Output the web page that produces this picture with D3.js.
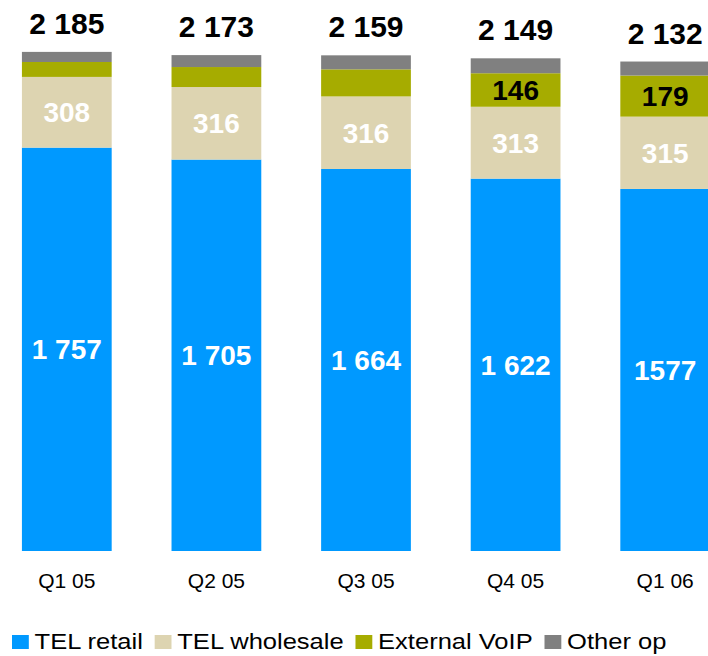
<!DOCTYPE html>
<html>
<head>
<meta charset="utf-8">
<script src="https://cdn.jsdelivr.net/npm/d3@7"></script>
<style>
  body { margin: 0; background: #fff; }
  svg { display: block; font-family: "Liberation Sans", Arial, sans-serif; }
</style>
</head>
<body>
<svg id="chart" width="708" height="656"></svg>
<script>
var categories = ["Q1 05", "Q2 05", "Q3 05", "Q4 05", "Q1 06"];
var telRetail = [1757, 1705, 1664, 1622, 1577];
var telWholesale = [308, 316, 316, 313, 315];
var externalVoip = [65, 87, 118, 146, 179];
var otherOp = [44, 52, 61, 65, 61];
var totals = ["2 185", "2 173", "2 159", "2 149", "2 132"];
var retailLabels = ["1 757", "1 705", "1 664", "1 622", "1577"];
var voipLabels = [null, null, null, "146", "179"];

var seriesNames = ["TEL retail", "TEL wholesale", "External VoIP", "Other op"];
var seriesColors = ["#0099ff", "#ddd4b1", "#a6ac00", "#808080"];

var svg = d3.select("#chart");

var rows = categories.map(function(c, i) {
    return { cat: c, retail: telRetail[i], wholesale: telWholesale[i], voip: externalVoip[i], other: otherOp[i], i: i };
});

var keys = ["retail", "wholesale", "voip", "other"];
var stack = d3.stack().keys(keys)(rows);

var x = d3.scaleBand()
    .domain(categories)
    .range([-8, 740])
    .paddingInner(0.4)
    .paddingOuter(0.2);

var y = d3.scaleLinear()
    .domain([0, 2400])
    .range([551, 0]);

// bars
var layers = svg.append("g")
    .selectAll("g")
    .data(stack)
    .enter().append("g")
    .attr("fill", function(d, i) { return seriesColors[i]; });

layers.selectAll("rect")
    .data(function(d) { return d; })
    .enter().append("rect")
    .attr("x", function(d) { return x(d.data.cat); })
    .attr("y", function(d) { return y(d[1]); })
    .attr("width", x.bandwidth())
    .attr("height", function(d) { return y(d[0]) - y(d[1]); });

// labels inside the segments
function segLabel(layerIdx, texts, color) {
    svg.append("g")
        .selectAll("text")
        .data(stack[layerIdx].filter(function(d) { return texts[d.data.i] != null; }))
        .enter().append("text")
        .attr("x", function(d) { return x(d.data.cat) + x.bandwidth() / 2; })
        .attr("y", function(d) { return (y(d[0]) + y(d[1])) / 2 + 10; })
        .attr("text-anchor", "middle")
        .attr("font-size", 28)
        .attr("font-weight", "bold")
        .attr("fill", color)
        .text(function(d) { return texts[d.data.i]; });
}
segLabel(0, retailLabels, "#fff");
segLabel(1, telWholesale.map(String), "#fff");
segLabel(2, voipLabels, "#000");

// totals on top
svg.append("g")
    .selectAll("text")
    .data(stack[3])
    .enter().append("text")
    .attr("x", function(d) { return x(d.data.cat) + x.bandwidth() / 2; })
    .attr("y", function(d) { return y(d[1]) - 18; })
    .attr("text-anchor", "middle")
    .attr("font-size", 30)
    .attr("font-weight", "bold")
    .attr("fill", "#000")
    .text(function(d) { return totals[d.data.i]; });

// category axis
var axis = svg.append("g")
    .attr("transform", "translate(0,551)")
    .call(d3.axisBottom(x).tickSize(0).tickPadding(22));
axis.select(".domain").remove();
axis.selectAll("text")
    .attr("font-size", 21)
    .attr("font-family", "\"Liberation Sans\", Arial, sans-serif")
    .attr("fill", "#000");

// legend (slightly wide type, like the original)
var legend = svg.append("g")
    .attr("transform", "translate(12,0) scale(1.16,1)");

var lx = 0;
seriesNames.forEach(function(name, i) {
    legend.append("rect")
        .attr("x", lx)
        .attr("y", 635)
        .attr("width", 14.5)
        .attr("height", 14)
        .attr("fill", seriesColors[i]);
    var t = legend.append("text")
        .attr("x", lx + 19.5)
        .attr("y", 649.5)
        .attr("font-size", 22)
        .attr("fill", "#000")
        .text(name);
    lx += 19.5 + t.node().getComputedTextLength() + 10.2;
});
</script>
</body>
</html>
